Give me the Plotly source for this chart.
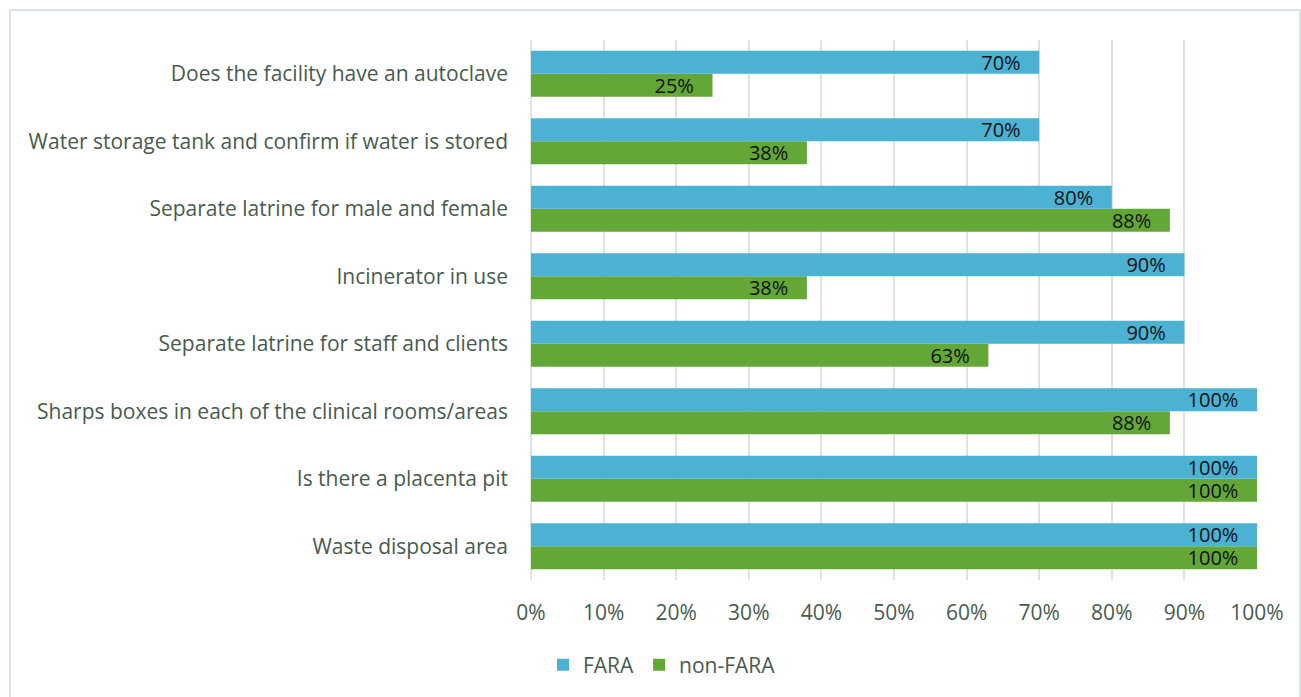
import plotly.graph_objects as go

categories = [
    "Waste disposal area",
    "Is there a placenta pit",
    "Sharps boxes in each of the clinical rooms/areas",
    "Separate latrine for staff and clients",
    "Incinerator in use",
    "Separate latrine for male and female",
    "Water storage tank and confirm if water is stored",
    "Does the facility have an autoclave",
]
fara = [100, 100, 100, 90, 90, 80, 70, 70]
non_fara = [100, 100, 88, 63, 38, 88, 38, 25]
tick_vals = [0, 10, 20, 30, 40, 50, 60, 70, 80, 90, 100]
tick_text = [f"{v}%" for v in tick_vals]

FONT = "Open Sans, Noto Sans, sans-serif"
TXT = "#475B4F"
PAD = "\u00a0\u00a0\u00a0"

fig = go.Figure()
fig.add_trace(go.Bar(
    y=categories, x=non_fara, orientation="h", name="non-FARA",
    marker=dict(color="#63A737", line=dict(width=0)),
    text=[f"{v}%{PAD}" for v in non_fara], textposition="inside", insidetextanchor="end",
    textfont=dict(color="#111111", size=20, family=FONT), legendrank=2,
    constraintext="none", hoverinfo="skip",
))
fig.add_trace(go.Bar(
    y=categories, x=fara, orientation="h", name="FARA",
    marker=dict(color="#4BB2D4", line=dict(width=0)),
    text=[f"{v}%{PAD}" for v in fara], textposition="inside", insidetextanchor="end",
    textfont=dict(color="#111111", size=20, family=FONT), legendrank=1,
    constraintext="none", hoverinfo="skip",
))

L, R, T, B = 531, 44, 40, 117
W, H = 1301, 697
pw, ph = W - L - R, H - T - B

fig.update_layout(
    width=W, height=H, barmode="group", bargap=0.32, bargroupgap=0,
    margin=dict(l=L, r=R, t=T, b=B),
    paper_bgcolor="white", plot_bgcolor="white",
    font=dict(family=FONT, color=TXT, size=20),
    showlegend=True,
    legend=dict(orientation="h", x=(662 - L) / pw, xanchor="center",
                y=(H - B - 665) / ph, yanchor="middle",
                font=dict(size=21, color=TXT), itemwidth=30, traceorder="normal"),
    uniformtext=dict(mode=False),
    xaxis=dict(range=[0, 100], tickvals=tick_vals, ticktext=tick_text,
               showgrid=True, gridcolor="#DDE3E0", gridwidth=2,
               zeroline=True, zerolinecolor="#DDE3E0", zerolinewidth=2,
               ticks="", ticklabelstandoff=18, fixedrange=True,
               tickfont=dict(size=21, color=TXT)),
    yaxis=dict(showgrid=False, ticks="", ticklabelstandoff=22,
               tickfont=dict(size=21, color=TXT), automargin=False),
    shapes=[dict(type="rect", xref="paper", yref="paper",
                 x0=(10 - L) / pw, x1=(1300 - L) / pw,
                 y0=(H - B - 700) / ph, y1=1 + (T - 10) / ph,
                 line=dict(color="#DDE3E0", width=2), layer="below")],
)
fig.write_html("out.html")
